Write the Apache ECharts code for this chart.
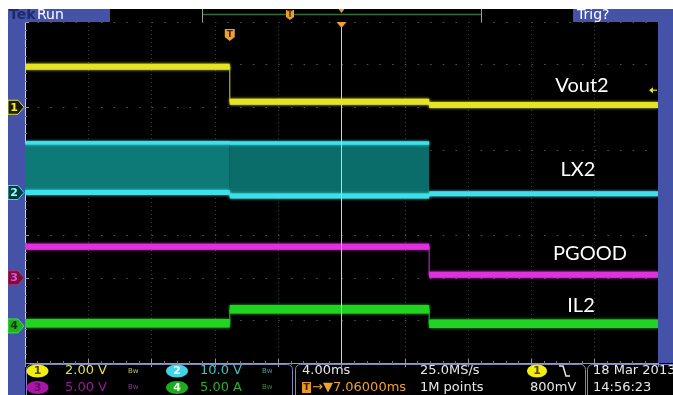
<!DOCTYPE html>
<html><head><meta charset="utf-8">
<script src="https://cdn.jsdelivr.net/npm/echarts@6/dist/echarts.min.js"></script>
<style>html,body{margin:0;padding:0;background:#fff;}#c{width:673px;height:395px;}</style>
</head><body><div id="c"></div>
<script>
// ---- data (times relative to trigger, ms) ----
const edges_ms   = [-12.94, 0, 12.6, 27.06];   // record start, edge 1, edge 2, record end
const vout2_V    = [1.90, 0.26, 0.11];          // CH1
const lx2High_V  = [11.7, 11.6, -0.3];          // CH2 switching envelope top
const lx2Low_V   = [0.0, -0.8, -0.3];           // CH2 switching envelope bottom
const pgood_V    = [3.65, 3.65, 0.35];          // CH3
const il2_A      = [0.3, 1.95, 0.25];           // CH4
const traceNames = ['Vout2', 'LX2', 'PGOOD', 'IL2'];
// ---- scope settings ----
const voltsPerDiv = [2.0, 10.0, 5.0, 5.0];
const groundDiv   = [6.0, 4.0, 2.0, 0.87];      // channel offset, divisions from bottom
const msPerDiv = 4.0, hDivs = 10, vDivs = 8;
const triggerDelay_ms = 7.06;

const t0 = hDivs / 2 * msPerDiv - triggerDelay_ms;  // trigger position on the screen, ms
const toDiv = (v, ch) => groundDiv[ch] + v / voltsPerDiv[ch];
// thin step trace (shows the edges)
function stepData(vals, ch) {
  const out = vals.map((v, i) => [edges_ms[i] + t0, toDiv(v, ch)]);
  out.push([edges_ms[3] + t0, toDiv(vals[vals.length - 1], ch)]);
  return out;
}
// flat levels only, broken between segments
function levelData(vals, ch) {
  const out = [];
  vals.forEach((v, i) => {
    out.push([edges_ms[i] + t0, toDiv(v, ch)], [edges_ms[i + 1] + t0, toDiv(v, ch)], [edges_ms[i + 1] + t0, '-']);
  });
  return out;
}
// switching envelope: segments where the top differs from the bottom
const bands = [];
lx2High_V.forEach((h, i) => {
  if (h !== lx2Low_V[i]) bands.push([edges_ms[i] + t0, edges_ms[i + 1] + t0, toDiv(lx2Low_V[i], 1), toDiv(h, 1)]);
});
const topLine = [];
bands.forEach(b => { topLine.push([b[0], b[3]], [b[1], b[3]], [b[1], '-']); });

const YEL = '#e4e424', CYA = '#3ee0ea', MAG = '#e030e0', GRN = '#22d422', BLUE = '#4453a8';
function trace(name, data, color, width, extra) {
  return Object.assign({
    name, type: 'line', data, symbol: 'none', silent: true, animation: false, connectNulls: false,
    lineStyle: { color, width, shadowBlur: 3, shadowColor: color, cap: 'butt' }
  }, extra || {});
}
function edge(name, vals, ch, color) {
  return { name: name + ' edges', type: 'line', data: stepData(vals, ch), step: 'end', symbol: 'none',
    silent: true, animation: false, z: 2, lineStyle: { color, width: 1.2, opacity: 0.8 } };
}

const chart = echarts.init(document.getElementById('c'), null, { renderer: 'canvas' });
const axisCommon = {
  type: 'value', axisLabel: { show: false },
  axisTick: { show: true, inside: true, length: 4, lineStyle: { color: '#9a9a9a' } },
  minorTick: { show: true, splitNumber: 5, length: 2, lineStyle: { color: '#777' } },
};
chart.setOption({
  backgroundColor: '#000',
  animation: false,
  grid: { left: 25, top: 22, width: 633, height: 341 },
  xAxis: [
    Object.assign({}, axisCommon, { min: 0, max: hDivs * msPerDiv, interval: msPerDiv, position: 'bottom',
      axisLine: { show: true, lineStyle: { color: '#8a90b8' } },
      splitLine: { show: true, lineStyle: { color: '#3a3a3a', type: [1, 3] } } }),
    Object.assign({}, axisCommon, { min: 0, max: hDivs * msPerDiv, interval: msPerDiv, position: 'top',
      axisLine: { show: true, lineStyle: { color: '#9a9aa8' } }, splitLine: { show: false } })
  ],
  yAxis: [
    Object.assign({}, axisCommon, { min: 0, max: vDivs, interval: 1, position: 'left',
      axisLine: { show: true, lineStyle: { color: '#c8d0f0' } },
      splitLine: { show: true, lineStyle: { color: '#555', type: [1.5, 11.16] } } }),
    Object.assign({}, axisCommon, { min: 0, max: vDivs, interval: 1, position: 'right',
      axisLine: { show: true, lineStyle: { color: '#c8d0f0' } }, splitLine: { show: false } })
  ],
  series: [
    { name: 'LX2 envelope', type: 'custom', data: bands, silent: true, animation: false, z: 1,
      encode: { x: [0, 1], y: [2, 3] },
      renderItem: (params, api) => {
        const a = api.coord([api.value(0), api.value(3)]);
        const b = api.coord([api.value(1), api.value(2)]);
        return { type: 'rect', shape: { x: a[0], y: a[1], width: b[0] - a[0], height: b[1] - a[1] },
          style: { fill: params.dataIndex === 0 ? '#0e7a77' : '#0b6d69' } };
      } },
    edge('Vout2', vout2_V, 0, YEL),
    edge('PGOOD', pgood_V, 2, MAG),
    edge('IL2', il2_A, 3, GRN),
    edge('LX2', lx2Low_V, 1, CYA),
    trace('LX2', levelData(lx2Low_V, 1), CYA, 5, { z: 3 }),
    trace('LX2 top', topLine, CYA, 3.5, { z: 3 }),
    trace('Vout2', levelData(vout2_V, 0), YEL, 6, { z: 4,
      markLine: { silent: true, symbol: 'none', label: { show: false },
        lineStyle: { color: '#d0d0d0', type: 'solid', width: 1 },
        data: [{ xAxis: hDivs / 2 * msPerDiv }] } }),
    trace('PGOOD', levelData(pgood_V, 2), MAG, 6, { z: 4 }),
    trace('IL2', levelData(il2_A, 3), GRN, 8.5, { z: 4 })
  ]
});

// ---- bezel, markers and text ----
const px = (x, y) => chart.convertToPixel({ gridIndex: 0 }, [x, y]);
const g = [];
const rect = (x, y, w, h, fill, z) => g.push({ type: 'rect', shape: { x, y, width: w, height: h }, style: { fill }, z: z || 10, silent: true });
const text = (x, y, s, fill, font, align, z) => g.push({ type: 'text', x, y, silent: true, z: z || 12,
  style: { text: s, fill, font, align: align || 'left', verticalAlign: 'middle' } });
const line = (x1, y1, x2, y2, stroke, w, z) => g.push({ type: 'line', shape: { x1, y1, x2, y2 }, silent: true, z: z || 11, style: { stroke, lineWidth: w || 1 } });
const poly = (points, fill, stroke, z) => g.push({ type: 'polygon', shape: { points }, silent: true, z: z || 12, style: { fill, stroke: stroke || null, lineWidth: 1 } });

rect(0, 0, 673, 9, '#fff', 20);
rect(0, 0, 8, 395, '#fff', 20);
rect(8, 9, 17, 386, BLUE);
rect(658, 22, 15, 341, BLUE);
// header
rect(8, 9, 102, 13, BLUE);
text(9, 15.5, 'Tek', '#1d2a6e', 'bold 14px "DejaVu Sans"');
text(37, 15.5, 'Run', '#ffffff', '14px "DejaVu Sans"');
line(202.5, 9, 202.5, 22, '#a0a0a0');
line(481.5, 9, 481.5, 22, '#a0a0a0');
line(203, 14.5, 481, 14.5, '#3d6b3d', 1.5);
rect(573, 9, 100, 13, BLUE);
text(577, 15.5, 'Trig?', '#ffffff', '14px "DejaVu Sans"');
// record view markers
poly([[286, 10], [294, 10], [294, 17], [290, 20], [286, 17]], '#e8a030');
text(290, 14.5, 'T', '#5a3000', 'bold 8px "DejaVu Sans"', 'center', 13);
const cx = px(hDivs / 2 * msPerDiv, 0)[0];
poly([[cx - 3, 9], [cx + 3, 9], [cx, 13]], '#e8a030');
poly([[cx - 5, 22], [cx + 5, 22], [cx, 28]], '#f0a030', null, 14);
// trigger marker in plot
const tp = px(t0, vDivs)[0];
poly([[tp - 5, 29], [tp + 5, 29], [tp + 5, 37], [tp, 41], [tp - 5, 37]], '#f0a030', null, 14);
text(tp, 34.5, 'T', '#4a2400', 'bold 9px "DejaVu Sans"', 'center', 15);
// channel markers
const chStyle = [['#1a1a00', YEL, '#f0f030'], ['#003a3a', CYA, '#9ff'], ['#7a1038', '#b0307a', '#e050e0'], ['#20b020', '#40e040', '#0a3a0a']];
groundDiv.forEach((d, i) => {
  const y = px(0, d)[1];
  poly([[8, y - 7], [18, y - 7], [24, y], [18, y + 7], [8, y + 7]], chStyle[i][0], chStyle[i][1], 16);
  text(14, y + 0.5, String(i + 1), chStyle[i][2], 'bold 11px "DejaVu Sans"', 'center', 17);
});
// trigger level arrow on right
const ty = px(0, groundDiv[0] + 0.8 / voltsPerDiv[0])[1];
line(650, ty, 657, ty, YEL, 1.2, 14);
poly([[649, ty], [653, ty - 3], [653, ty + 3]], YEL, null, 14);
// trace labels
const lblFont = '20px Lato, "Open Sans", sans-serif';
text(582, 86, traceNames[0], '#ffffff', lblFont, 'center', 18);
text(578, 170, traceNames[1], '#ffffff', lblFont, 'center', 18);
text(590, 254, traceNames[2], '#ffffff', lblFont, 'center', 18);
text(581, 306, traceNames[3], '#ffffff', lblFont, 'center', 18);
// status bar
const sf = '13px "DejaVu Sans"';
const r1 = 371, r2 = 387.5;
[[26.5, 266], [295.5, 290], [587.5, 120]].forEach(([x, w]) =>
  g.push({ type: 'rect', shape: { x, y: 364.5, width: w, height: 40, r: 5 }, silent: true, z: 11, style: { fill: null, stroke: '#7f88b8', lineWidth: 1 } }));
const badge = (x, y, fill, s, tf) => {
  g.push({ type: 'ellipse', shape: { cx: x, cy: y, rx: 11, ry: 6.5 }, silent: true, z: 12, style: { fill } });
  text(x, y + 0.5, s, tf, 'bold 11px "DejaVu Sans"', 'center', 13);
};
badge(37.5, r1, '#f2ee10', '1', '#5a4a00');
text(65, r1, '2.00 V', '#e4e040', sf);
text(128, r1, 'Bw', '#c8c060', '7px "DejaVu Sans"');
badge(177, r1, '#40d4e4', '2', '#eaffff');
text(200, r1, '10.0 V', '#40c4c8', sf);
text(262, r1, 'Bw', '#50a0a0', '7px "DejaVu Sans"');
badge(37.5, r2, '#a818a8', '3', '#6a006a');
text(65, r2, '5.00 V', '#9a1a9a', sf);
text(128, r2, 'Bw', '#8a3a8a', '7px "DejaVu Sans"');
badge(177, r2, '#1eac1e', '4', '#e8ffe8');
text(200, r2, '5.00 A', '#2fae2f', sf);
text(262, r2, 'Bw', '#3a8a3a', '7px "DejaVu Sans"');
text(302, r1, '4.00ms', '#e8e8e8', sf);
text(420, r1, '25.0MS/s', '#e8e8e8', sf);
rect(302, r2 - 5.5, 9, 11, '#e89828', 12);
text(306.5, r2, 'T', '#3a1a00', 'bold 9px "DejaVu Sans"', 'center', 13);
text(312, r2, '→▼7.06000ms', '#f0a030', sf);
text(420, r2, '1M points', '#e8e8e8', sf);
g.push({ type: 'ellipse', shape: { cx: 537, cy: r1, rx: 10, ry: 6.5 }, silent: true, z: 12, style: { fill: '#f2ee10' } });
text(537, r1 + 0.5, '1', '#5a4a00', 'bold 11px "DejaVu Sans"', 'center', 13);
g.push({ type: 'polyline', shape: { points: [[559, 366], [563, 366], [566, 376], [570, 376]] }, silent: true, z: 12, style: { stroke: '#e8e8e8', lineWidth: 1.5, fill: null } });
text(530, r2, '800mV', '#e8e8e8', sf);
text(593, r1, '18 Mar 2013', '#e8e8e8', sf);
text(593, r2, '14:56:23', '#e8e8e8', sf);

chart.setOption({ graphic: { elements: g } });
</script></body></html>
